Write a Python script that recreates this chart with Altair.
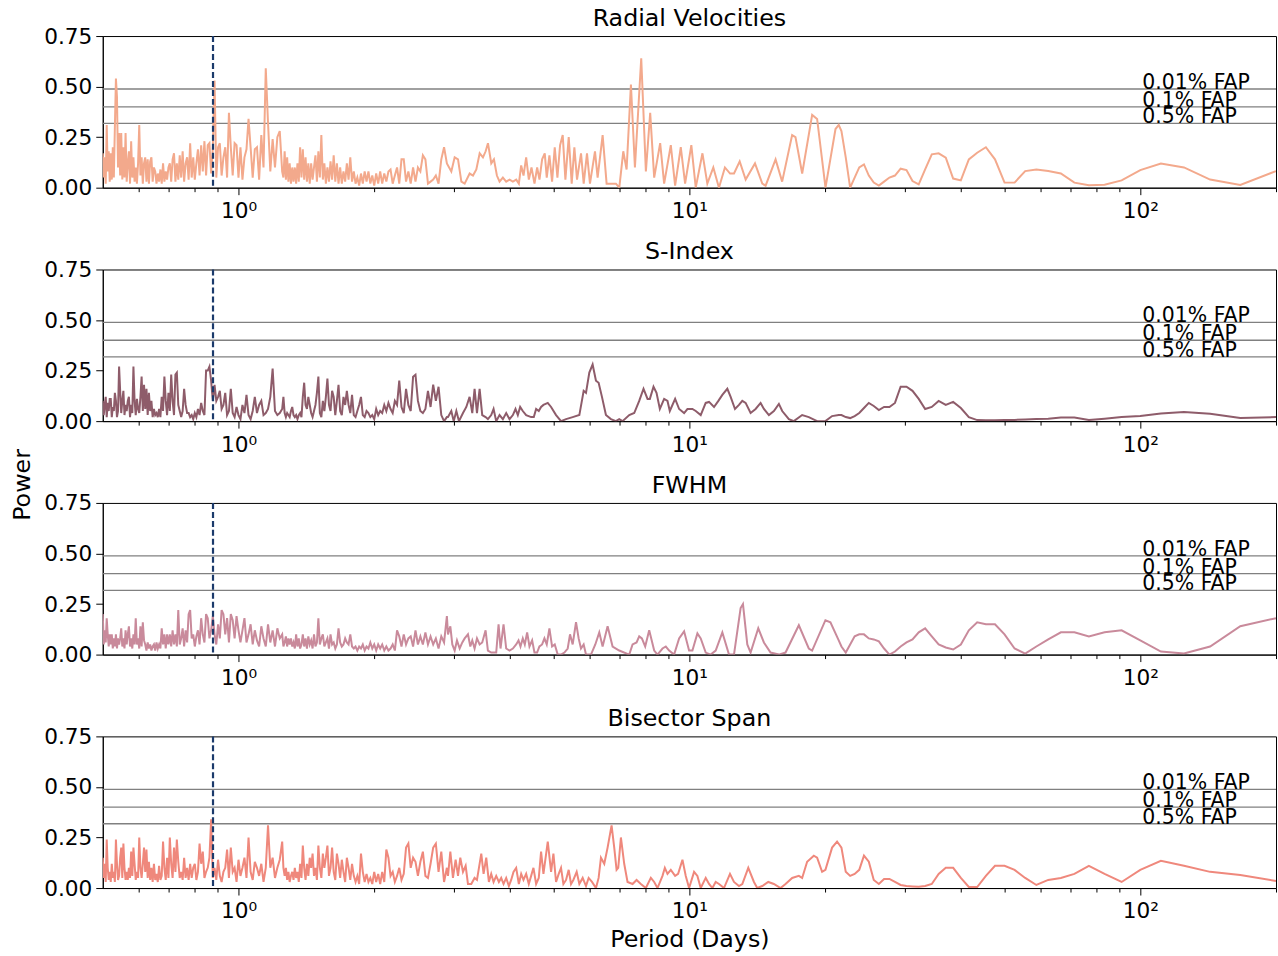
import altair as alt
import pandas as pd

FONT = "DejaVu Sans"

# ---------------- data ----------------
# dense short-period part: frequency samples in 1/day (period = 1/frequency)
freq_dense = [
    2.00, 1.99, 1.98, 1.97, 1.96, 1.95, 1.94, 1.93, 1.92, 1.91,
    1.90, 1.89, 1.88, 1.87, 1.86, 1.85, 1.84, 1.83, 1.82, 1.81,
    1.80, 1.79, 1.78, 1.77, 1.76, 1.75, 1.74, 1.73, 1.72, 1.71,
    1.70, 1.69, 1.68, 1.67, 1.66, 1.65, 1.64, 1.63, 1.62, 1.61,
    1.60, 1.59, 1.58, 1.57, 1.56, 1.55, 1.54, 1.53, 1.52, 1.51,
    1.50, 1.49, 1.48, 1.47, 1.46, 1.45, 1.44, 1.43, 1.42, 1.41,
    1.40, 1.39, 1.38, 1.37, 1.36, 1.35, 1.34, 1.33, 1.32, 1.31,
    1.30, 1.29, 1.28, 1.27, 1.26, 1.25, 1.24, 1.23, 1.22, 1.21,
    1.20, 1.19, 1.18, 1.17, 1.16, 1.15, 1.14, 1.13, 1.12, 1.11,
    1.10, 1.09, 1.08, 1.07, 1.06, 1.05, 1.04, 1.03, 1.02, 1.01,
    1.00, 0.99, 0.98, 0.97, 0.96, 0.95, 0.94, 0.93, 0.92, 0.91,
    0.90, 0.89, 0.88, 0.87, 0.86, 0.85, 0.84, 0.83, 0.82, 0.81,
    0.80,
    0.795, 0.790, 0.785, 0.780, 0.775, 0.770, 0.765, 0.760, 0.755, 0.750,
    0.745, 0.740, 0.735, 0.730, 0.725, 0.720, 0.715, 0.710, 0.705, 0.700,
    0.695, 0.690, 0.685, 0.680, 0.675, 0.670, 0.665, 0.660, 0.655, 0.650,
    0.645, 0.640, 0.635, 0.630, 0.625, 0.620, 0.615, 0.610, 0.605, 0.600,
    0.595, 0.590, 0.585, 0.580, 0.575, 0.570, 0.565, 0.560, 0.555, 0.550,
    0.545, 0.540, 0.535, 0.530, 0.525, 0.520, 0.515, 0.510, 0.505, 0.500,
    0.495, 0.490, 0.485, 0.480, 0.475, 0.470, 0.465, 0.460, 0.455, 0.450,
    0.445, 0.440, 0.435, 0.430, 0.425, 0.420, 0.415, 0.410, 0.405, 0.400,
    0.395, 0.390, 0.385, 0.380, 0.375, 0.370, 0.365, 0.360, 0.355, 0.350,
    0.345,
]

# long-period part: frequency samples in 1/day
freq_long = [
    0.046, 0.045, 0.044, 0.043, 0.042, 0.041, 0.040, 0.039, 0.038, 0.037,
    0.036, 0.035, 0.034, 0.033, 0.032, 0.031, 0.030, 0.029, 0.028, 0.027,
    0.026, 0.025, 0.024, 0.023, 0.022, 0.021, 0.020, 0.019, 0.018, 0.017,
    0.016, 0.015, 0.014, 0.013, 0.012, 0.011, 0.010, 0.009, 0.008, 0.007,
    0.006, 0.005,
]

# ---- Radial Velocities ----
rv_dense = [
    0.17, 0.05, 0.15, 0.02, 0.31, 0.08, 0.18, 0.03, 0.17, 0.04,
    0.20, 0.05, 0.30, 0.54, 0.45, 0.10, 0.27, 0.06, 0.27, 0.04,
    0.20, 0.05, 0.27, 0.03, 0.12, 0.18, 0.02, 0.23, 0.05, 0.15,
    0.03, 0.10, 0.02, 0.12, 0.31, 0.06, 0.15, 0.02, 0.12, 0.15,
    0.03, 0.14, 0.02, 0.13, 0.15, 0.03, 0.10, 0.08, 0.02, 0.07,
    0.03, 0.09, 0.02, 0.12, 0.03, 0.08, 0.04, 0.10, 0.12, 0.03,
    0.14, 0.17, 0.03, 0.12, 0.04, 0.16, 0.05, 0.18, 0.03, 0.12,
    0.15, 0.04, 0.22, 0.05, 0.15, 0.04, 0.12, 0.19, 0.06, 0.21,
    0.08, 0.23, 0.06, 0.21, 0.22, 0.07, 0.20, 0.53, 0.05, 0.20,
    0.22, 0.06, 0.15, 0.20, 0.05, 0.37, 0.20, 0.06, 0.22, 0.21,
    0.05, 0.20, 0.04, 0.15, 0.19, 0.34, 0.20, 0.05, 0.19, 0.20,
    0.04, 0.26, 0.10, 0.59, 0.32, 0.08, 0.24, 0.10, 0.25, 0.28,
    0.08,
    0.05, 0.18, 0.04, 0.15, 0.03, 0.12, 0.02, 0.10, 0.03, 0.10,
    0.02, 0.12, 0.03, 0.20, 0.05, 0.19, 0.04, 0.15, 0.03, 0.12,
    0.02, 0.12, 0.04, 0.10, 0.16, 0.03, 0.18, 0.05, 0.26, 0.04,
    0.12, 0.02, 0.10, 0.03, 0.13, 0.04, 0.16, 0.03, 0.12, 0.02,
    0.10, 0.02, 0.08, 0.03, 0.12, 0.04, 0.15, 0.03, 0.08, 0.02,
    0.05, 0.01, 0.07, 0.02, 0.08, 0.03, 0.08, 0.02, 0.06, 0.01,
    0.07, 0.02, 0.08, 0.02, 0.07, 0.03, 0.08, 0.09, 0.02, 0.06,
    0.10, 0.02, 0.14, 0.14, 0.03, 0.08, 0.02, 0.10, 0.03, 0.10,
    0.08, 0.16, 0.14, 0.02, 0.03, 0.04, 0.06, 0.02, 0.14, 0.20,
    0.12,
]
rv_mid = [  # (period in days, power)
    (2.965, 0.08), (3.016, 0.15), (3.068, 0.14), (3.121, 0.03), (3.174, 0.02),
    (3.256, 0.07), (3.312, 0.06), (3.369, 0.09), (3.427, 0.17), (3.485, 0.15),
    (3.533, 0.18), (3.575, 0.22), (3.636, 0.12), (3.686, 0.14), (3.742, 0.06),
    (3.793, 0.03), (3.858, 0.05), (3.924, 0.03), (3.992, 0.04), (4.060, 0.03),
    (4.130, 0.04), (4.186, 0.02), (4.236, 0.11), (4.287, 0.06), (4.345, 0.15),
    (4.405, 0.04), (4.465, 0.10), (4.534, 0.02), (4.596, 0.10), (4.651, 0.04),
    (4.714, 0.14), (4.778, 0.17), (4.827, 0.05), (4.893, 0.16), (4.960, 0.03),
    (5.028, 0.20), (5.097, 0.05), (5.167, 0.21), (5.237, 0.26), (5.309, 0.04),
    (5.400, 0.25), (5.483, 0.02), (5.558, 0.20), (5.634, 0.04), (5.750, 0.17),
    (5.829, 0.02), (5.928, 0.17), (6.019, 0.02), (6.175, 0.18), (6.259, 0.05),
    (6.421, 0.26), (6.553, 0.02), (6.873, 0.02), (6.991, 0.00), (7.135, 0.18),
    (7.257, 0.09), (7.419, 0.51), (7.572, 0.10), (7.820, 0.64), (8.008, 0.08),
    (8.186, 0.37), (8.355, 0.05), (8.614, 0.22), (8.791, 0.02), (9.095, 0.21),
    (9.298, 0.01), (9.570, 0.20), (9.784, 0.02), (10.10, 0.21), (10.33, 0.00),
    (10.69, 0.17), (10.96, 0.02), (11.30, 0.10), (11.63, 0.00), (11.99, 0.10),
    (12.31, 0.07), (12.56, 0.07), (12.93, 0.13), (13.33, 0.04), (13.98, 0.12),
    (14.51, 0.02), (14.76, 0.01), (15.53, 0.14), (16.06, 0.03), (16.90, 0.26),
    (17.19, 0.25), (17.79, 0.07), (18.72, 0.36), (19.20, 0.34), (20.04, 0.00),
    (21.09, 0.29), (21.44, 0.31),
]
rv_long = [
    0.28, 0.15, 0.00, 0.05, 0.10, 0.115, 0.06, 0.025, 0.01, 0.03,
    0.05, 0.06, 0.094, 0.087, 0.033, 0.016, 0.09, 0.165, 0.17, 0.148,
    0.045, 0.036, 0.14, 0.173, 0.20, 0.14, 0.025, 0.025, 0.082, 0.09,
    0.082, 0.07, 0.025, 0.012, 0.015, 0.036, 0.087, 0.119, 0.10, 0.04,
    0.013, 0.082,
]

# ---- S-Index ----
s_dense = [
    0.10, 0.03, 0.08, 0.12, 0.02, 0.09, 0.05, 0.11, 0.11, 0.02,
    0.07, 0.05, 0.14, 0.10, 0.02, 0.05, 0.27, 0.15, 0.04, 0.10,
    0.15, 0.03, 0.08, 0.05, 0.10, 0.12, 0.02, 0.08, 0.04, 0.27,
    0.10, 0.03, 0.11, 0.06, 0.04, 0.12, 0.22, 0.05, 0.18, 0.06,
    0.16, 0.03, 0.14, 0.05, 0.10, 0.02, 0.06, 0.03, 0.04, 0.02,
    0.06, 0.02, 0.12, 0.05, 0.22, 0.10, 0.03, 0.14, 0.05, 0.23,
    0.10, 0.03, 0.23, 0.24, 0.08, 0.05, 0.02, 0.05, 0.16, 0.08,
    0.04, 0.04, 0.02, 0.03, 0.01, 0.04, 0.02, 0.06, 0.03, 0.09,
    0.05, 0.03, 0.25, 0.25, 0.27, 0.20, 0.10, 0.18, 0.10, 0.12,
    0.15, 0.06, 0.08, 0.14, 0.03, 0.05, 0.16, 0.04, 0.02, 0.07,
    0.03, 0.01, 0.08, 0.04, 0.13, 0.03, 0.01, 0.05, 0.12, 0.04,
    0.08, 0.10, 0.03, 0.04, 0.06, 0.12, 0.26, 0.05, 0.03, 0.04,
    0.06,
    0.12, 0.04, 0.02, 0.04, 0.03, 0.02, 0.05, 0.07, 0.03, 0.02,
    0.03, 0.01, 0.03, 0.04, 0.02, 0.12, 0.19, 0.08, 0.06, 0.12,
    0.08, 0.04, 0.02, 0.05, 0.08, 0.14, 0.22, 0.04, 0.02, 0.10,
    0.05, 0.12, 0.21, 0.08, 0.05, 0.15, 0.12, 0.03, 0.10, 0.18,
    0.05, 0.03, 0.12, 0.08, 0.15, 0.08, 0.04, 0.13, 0.03, 0.02,
    0.05, 0.08, 0.12, 0.03, 0.02, 0.05, 0.04, 0.02, 0.03, 0.01,
    0.06, 0.03, 0.05, 0.04, 0.08, 0.05, 0.09, 0.06, 0.04, 0.10,
    0.08, 0.20, 0.07, 0.04, 0.16, 0.08, 0.05, 0.22, 0.23, 0.10,
    0.05, 0.04, 0.06, 0.15, 0.07, 0.18, 0.10, 0.17, 0.03, 0.00,
    0.02,
]
s_mid = [
    (2.915, 0.02), (2.965, 0.05), (3.001, 0.00), (3.042, 0.05), (3.083, 0.00),
    (3.147, 0.04), (3.201, 0.07), (3.255, 0.12), (3.300, 0.04), (3.339, 0.16),
    (3.380, 0.04), (3.426, 0.16), (3.472, 0.03), (3.532, 0.02), (3.574, 0.01),
    (3.635, 0.03), (3.679, 0.06), (3.729, 0.00), (3.793, 0.03), (3.858, 0.01),
    (3.924, 0.04), (3.991, 0.01), (4.060, 0.03), (4.115, 0.06), (4.164, 0.03),
    (4.214, 0.07), (4.271, 0.05), (4.345, 0.03), (4.457, 0.02), (4.518, 0.02),
    (4.572, 0.06), (4.634, 0.05), (4.689, 0.07), (4.746, 0.08), (4.852, 0.09),
    (4.935, 0.07), (5.062, 0.03), (5.192, 0.00), (5.327, 0.01), (5.510, 0.02),
    (5.701, 0.03), (5.828, 0.15), (5.898, 0.14), (5.999, 0.24), (6.101, 0.28),
    (6.206, 0.20), (6.291, 0.19), (6.399, 0.12), (6.530, 0.03), (6.698, 0.01),
    (6.872, 0.00), (6.989, 0.01), (7.109, 0.00), (7.355, 0.03), (7.545, 0.04),
    (7.740, 0.10), (7.912, 0.16), (8.076, 0.11), (8.172, 0.11), (8.326, 0.17),
    (8.455, 0.14), (8.600, 0.06), (8.791, 0.11), (8.942, 0.10), (9.049, 0.05),
    (9.298, 0.11), (9.490, 0.06), (9.734, 0.04), (9.901, 0.06), (10.156, 0.06),
    (10.331, 0.05), (10.596, 0.03), (10.870, 0.09), (11.056, 0.095), (11.341, 0.07),
    (11.595, 0.10), (11.833, 0.13), (12.138, 0.16), (12.346, 0.12), (12.623, 0.06),
    (12.882, 0.08), (13.102, 0.10), (13.327, 0.09), (13.671, 0.04), (14.024, 0.06),
    (14.386, 0.09), (14.632, 0.06), (15.009, 0.03), (15.396, 0.05), (15.794, 0.085),
    (16.065, 0.05), (16.619, 0.01), (17.048, 0.00), (17.787, 0.03), (18.401, 0.02),
    (19.200, 0.00), (20.032, 0.00), (20.725, 0.025), (21.440, 0.03),
]
s_long = [
    0.03, 0.02, 0.015, 0.025, 0.04, 0.065, 0.09, 0.075, 0.055, 0.07,
    0.07, 0.09, 0.17, 0.17, 0.15, 0.11, 0.06, 0.07, 0.10, 0.08,
    0.095, 0.065, 0.02, 0.005, 0.004, 0.004, 0.005, 0.006, 0.008, 0.010,
    0.012, 0.018, 0.018, 0.006, 0.012, 0.020, 0.025, 0.038, 0.045, 0.036,
    0.015, 0.020,
]

# ---- FWHM ----
fwhm_dense = [
    0.20, 0.05, 0.12, 0.06, 0.18, 0.10, 0.04, 0.10, 0.05, 0.10,
    0.03, 0.08, 0.04, 0.10, 0.03, 0.08, 0.05, 0.08, 0.13, 0.04,
    0.08, 0.03, 0.12, 0.05, 0.10, 0.14, 0.04, 0.08, 0.03, 0.10,
    0.05, 0.18, 0.05, 0.08, 0.03, 0.14, 0.04, 0.16, 0.07, 0.05,
    0.02, 0.06, 0.03, 0.05, 0.02, 0.04, 0.05, 0.02, 0.06, 0.03,
    0.05, 0.03, 0.13, 0.05, 0.10, 0.03, 0.10, 0.05, 0.10, 0.04,
    0.12, 0.05, 0.10, 0.04, 0.22, 0.05, 0.08, 0.13, 0.04, 0.12,
    0.06, 0.20, 0.22, 0.08, 0.10, 0.04, 0.09, 0.12, 0.05, 0.18,
    0.10, 0.06, 0.20, 0.18, 0.08, 0.12, 0.19, 0.10, 0.05, 0.15,
    0.08, 0.22, 0.20, 0.10, 0.18, 0.06, 0.20, 0.17, 0.08, 0.19,
    0.12, 0.06, 0.12, 0.18, 0.06, 0.10, 0.15, 0.05, 0.12, 0.07,
    0.04, 0.14, 0.08, 0.04, 0.15, 0.06, 0.12, 0.04, 0.13, 0.08,
    0.10,
    0.04, 0.06, 0.09, 0.04, 0.08, 0.05, 0.08, 0.04, 0.06, 0.03,
    0.10, 0.04, 0.08, 0.03, 0.05, 0.10, 0.04, 0.08, 0.03, 0.09,
    0.05, 0.07, 0.03, 0.10, 0.04, 0.06, 0.18, 0.05, 0.08, 0.10,
    0.04, 0.06, 0.08, 0.03, 0.10, 0.05, 0.06, 0.03, 0.05, 0.13,
    0.06, 0.04, 0.05, 0.08, 0.06, 0.05, 0.10, 0.04, 0.03, 0.04,
    0.02, 0.04, 0.03, 0.05, 0.02, 0.04, 0.03, 0.06, 0.03, 0.05,
    0.02, 0.05, 0.03, 0.05, 0.02, 0.04, 0.02, 0.03, 0.05, 0.02,
    0.12, 0.09, 0.04, 0.10, 0.05, 0.08, 0.09, 0.04, 0.12, 0.05,
    0.09, 0.05, 0.11, 0.05, 0.09, 0.05, 0.08, 0.03, 0.09, 0.06,
    0.19,
]
fwhm_mid = [
    (2.915, 0.10), (2.950, 0.14), (2.980, 0.05), (3.016, 0.02), (3.052, 0.07),
    (3.094, 0.03), (3.136, 0.06), (3.174, 0.08), (3.228, 0.10), (3.267, 0.04),
    (3.300, 0.07), (3.339, 0.03), (3.380, 0.08), (3.426, 0.05), (3.472, 0.06),
    (3.532, 0.12), (3.574, 0.02), (3.635, 0.01), (3.729, 0.01), (3.774, 0.15),
    (3.812, 0.03), (3.871, 0.15), (3.924, 0.03), (3.991, 0.02), (4.060, 0.03),
    (4.129, 0.05), (4.179, 0.07), (4.221, 0.04), (4.271, 0.08), (4.315, 0.05),
    (4.367, 0.11), (4.419, 0.04), (4.480, 0.07), (4.533, 0.01), (4.595, 0.01),
    (4.650, 0.04), (4.714, 0.05), (4.770, 0.08), (4.827, 0.05), (4.893, 0.13),
    (4.960, 0.04), (5.028, 0.05), (5.105, 0.00), (5.192, 0.00), (5.282, 0.01),
    (5.372, 0.03), (5.436, 0.10), (5.510, 0.05), (5.605, 0.16), (5.681, 0.08),
    (5.749, 0.03), (5.828, 0.05), (5.898, 0.00), (6.050, 0.00), (6.185, 0.05),
    (6.312, 0.11), (6.420, 0.04), (6.586, 0.14), (6.756, 0.04), (6.989, 0.02),
    (7.355, 0.00), (7.482, 0.05), (7.636, 0.06), (7.740, 0.09), (7.846, 0.08),
    (7.980, 0.04), (8.145, 0.12), (8.355, 0.02), (8.497, 0.00), (8.717, 0.03),
    (8.866, 0.04), (9.018, 0.02), (9.250, 0.00), (9.489, 0.08), (9.734, 0.115),
    (9.985, 0.02), (10.156, 0.02), (10.418, 0.105), (10.596, 0.08), (10.870, 0.01),
    (11.150, 0.00), (11.438, 0.02), (11.833, 0.11), (12.242, 0.00), (12.558, 0.00),
    (12.991, 0.23), (13.148, 0.25), (13.441, 0.05), (13.671, 0.01), (14.216, 0.13),
    (14.632, 0.06), (15.138, 0.01), (15.794, 0.00), (16.340, 0.01), (17.488, 0.145),
    (18.401, 0.03), (18.717, 0.02), (20.032, 0.17), (20.550, 0.16), (21.440, 0.07),
]
fwhm_long = [
    0.04, 0.01, 0.05, 0.09, 0.10, 0.10, 0.08, 0.075, 0.065, 0.03,
    0.00, 0.015, 0.04, 0.06, 0.075, 0.11, 0.13, 0.09, 0.05, 0.035,
    0.025, 0.05, 0.12, 0.16, 0.15, 0.15, 0.10, 0.03, 0.005, 0.04,
    0.075, 0.11, 0.11, 0.09, 0.11, 0.12, 0.07, 0.015, 0.005, 0.04,
    0.14, 0.18,
]

# ---- Bisector Span ----
bis_dense = [
    0.15, 0.05, 0.12, 0.03, 0.24, 0.10, 0.04, 0.08, 0.03, 0.12,
    0.05, 0.08, 0.03, 0.24, 0.12, 0.04, 0.06, 0.15, 0.20, 0.05,
    0.22, 0.10, 0.04, 0.08, 0.04, 0.10, 0.05, 0.18, 0.06, 0.20,
    0.12, 0.04, 0.08, 0.05, 0.25, 0.10, 0.05, 0.12, 0.20, 0.08,
    0.19, 0.05, 0.13, 0.04, 0.10, 0.03, 0.12, 0.04, 0.07, 0.03,
    0.11, 0.04, 0.06, 0.23, 0.10, 0.04, 0.15, 0.05, 0.25, 0.12,
    0.05, 0.20, 0.08, 0.24, 0.13, 0.05, 0.08, 0.04, 0.15, 0.05,
    0.10, 0.04, 0.12, 0.05, 0.10, 0.12, 0.04, 0.08, 0.22, 0.12,
    0.18, 0.05, 0.08, 0.10, 0.15, 0.34, 0.05, 0.10, 0.04, 0.14,
    0.06, 0.03, 0.08, 0.10, 0.19, 0.05, 0.20, 0.08, 0.10, 0.03,
    0.14, 0.06, 0.10, 0.15, 0.05, 0.25, 0.08, 0.04, 0.13, 0.10,
    0.06, 0.12, 0.03, 0.10, 0.31, 0.10, 0.15, 0.05, 0.10, 0.14,
    0.23,
    0.10, 0.06, 0.10, 0.04, 0.08, 0.03, 0.06, 0.08, 0.04, 0.10,
    0.05, 0.08, 0.03, 0.12, 0.05, 0.21, 0.10, 0.04, 0.12, 0.06,
    0.15, 0.10, 0.17, 0.06, 0.10, 0.04, 0.21, 0.10, 0.05, 0.17,
    0.10, 0.15, 0.21, 0.06, 0.10, 0.20, 0.08, 0.04, 0.17, 0.12,
    0.05, 0.14, 0.08, 0.03, 0.15, 0.10, 0.04, 0.12, 0.06, 0.03,
    0.06, 0.02, 0.17, 0.08, 0.03, 0.07, 0.03, 0.05, 0.02, 0.08,
    0.03, 0.07, 0.02, 0.08, 0.03, 0.19, 0.15, 0.06, 0.08, 0.03,
    0.06, 0.10, 0.04, 0.07, 0.20, 0.22, 0.10, 0.15, 0.13, 0.06,
    0.13, 0.18, 0.06, 0.05, 0.12, 0.20, 0.22, 0.08, 0.18, 0.03,
    0.10,
]
bis_mid = [
    (2.915, 0.06), (2.950, 0.18), (2.990, 0.05), (3.031, 0.14), (3.068, 0.06),
    (3.104, 0.15), (3.147, 0.08), (3.190, 0.11), (3.228, 0.02), (3.283, 0.02),
    (3.339, 0.05), (3.380, 0.04), (3.455, 0.17), (3.496, 0.07), (3.544, 0.15),
    (3.592, 0.03), (3.635, 0.07), (3.679, 0.03), (3.729, 0.06), (3.780, 0.03),
    (3.825, 0.05), (3.871, 0.02), (3.924, 0.05), (3.978, 0.01), (4.025, 0.04),
    (4.073, 0.08), (4.129, 0.10), (4.186, 0.02), (4.236, 0.07), (4.286, 0.04),
    (4.345, 0.07), (4.404, 0.02), (4.457, 0.06), (4.510, 0.10), (4.572, 0.02),
    (4.634, 0.05), (4.689, 0.18), (4.746, 0.07), (4.852, 0.23), (4.935, 0.08),
    (4.994, 0.17), (5.062, 0.03), (5.131, 0.07), (5.192, 0.10), (5.255, 0.02),
    (5.327, 0.04), (5.399, 0.09), (5.464, 0.02), (5.529, 0.04), (5.624, 0.08),
    (5.701, 0.02), (5.799, 0.05), (5.898, 0.01), (5.978, 0.05), (6.081, 0.03),
    (6.206, 0.00), (6.291, 0.05), (6.366, 0.15), (6.475, 0.12), (6.586, 0.20),
    (6.721, 0.31), (6.813, 0.20), (6.895, 0.09), (6.954, 0.10), (7.049, 0.25),
    (7.169, 0.12), (7.292, 0.03), (7.482, 0.02), (7.636, 0.04), (7.805, 0.02),
    (8.007, 0.00), (8.214, 0.05), (8.355, 0.03), (8.497, 0.00), (8.717, 0.06),
    (8.822, 0.10), (8.942, 0.07), (9.095, 0.09), (9.298, 0.06), (9.441, 0.07),
    (9.652, 0.14), (9.817, 0.06), (9.985, 0.00), (10.243, 0.08), (10.418, 0.06),
    (10.596, 0.00), (10.870, 0.05), (11.056, 0.02), (11.246, 0.00), (11.438, 0.03),
    (11.634, 0.02), (11.933, 0.00), (12.304, 0.07), (12.558, 0.03), (12.882, 0.01),
    (13.102, 0.02), (13.509, 0.10), (13.906, 0.03), (14.143, 0.00), (14.509, 0.01),
    (14.959, 0.03), (15.396, 0.02), (15.929, 0.00), (16.340, 0.02), (16.904, 0.05),
    (17.488, 0.06), (17.787, 0.05), (18.245, 0.13), (18.877, 0.16), (19.200, 0.15),
    (19.695, 0.08), (20.032, 0.09), (20.725, 0.20), (21.260, 0.23),
]
bis_long = [
    0.20, 0.08, 0.06, 0.07, 0.09, 0.16, 0.13, 0.04, 0.02, 0.045,
    0.045, 0.03, 0.015, 0.01, 0.008, 0.006, 0.01, 0.02, 0.07, 0.10,
    0.10, 0.05, 0.005, 0.005, 0.06, 0.11, 0.11, 0.09, 0.05, 0.015,
    0.04, 0.05, 0.07, 0.11, 0.07, 0.03, 0.09, 0.135, 0.11, 0.08,
    0.065, 0.035,
]

titles = ["Radial Velocities", "S-Index", "FWHM", "Bisector Span"]
colors = ["#F3A98C", "#8E5C6A", "#C98A9B", "#EF887C"]
fap_levels = [0.488, 0.400, 0.318]
fap_labels = ["0.01% FAP", "0.1% FAP", "0.5% FAP"]
marker_period = [0.878]
x_tick_values = [0.6, 0.7, 0.8, 0.9, 1, 2, 3, 4, 5, 6, 7, 8, 9,
                 10, 20, 30, 40, 50, 60, 70, 80, 90, 100, 200]
y_tick_values = [0.0, 0.25, 0.5, 0.75]


def series(dense, mid, long_):
    rows = [(1.0 / f, p) for f, p in zip(freq_dense, dense)]
    rows += [(a, b) for a, b in mid]
    rows += [(1.0 / f, p) for f, p in zip(freq_long, long_)]
    return pd.DataFrame(rows, columns=["period", "power"]).sort_values("period")


frames = [
    series(rv_dense, rv_mid, rv_long),
    series(s_dense, s_mid, s_long),
    series(fwhm_dense, fwhm_mid, fwhm_long),
    series(bis_dense, bis_mid, bis_long),
]

fap_df = pd.DataFrame({"level": fap_levels, "label": fap_labels})
marker_df = pd.DataFrame({"period": marker_period})
power_df = pd.DataFrame({"t": ["Power"]})

xscale = alt.Scale(type="log", domain=[0.5, 200], nice=False)
yscale = alt.Scale(domain=[0, 0.75], nice=False, zero=False)

LABEL_EXPR = ("datum.value == 1 ? '10\u2070' : datum.value == 10 ? '10\u00b9' : "
              "datum.value == 100 ? '10\u00b2' : ''")
MAJOR_TEST = "datum.value == 1 || datum.value == 10 || datum.value == 100"


def x_axis(with_title):
    kw = dict(
        values=x_tick_values,
        labelExpr=LABEL_EXPR,
        tickSize={"condition": {"test": MAJOR_TEST, "value": 7}, "value": 4},
        tickColor="black", tickWidth=1,
        domainColor="black", domainWidth=1,
        labelFont=FONT, labelFontSize=21.7, labelColor="black",
        labelPadding=6, labelOverlap=False, labelFlush=False,
        grid=False,
    )
    if with_title:
        kw.update(title="Period (Days)", titleFont=FONT, titleFontSize=23.8,
                  titleFontWeight="normal", titleColor="black", titlePadding=5)
    else:
        kw.update(title=None)
    return alt.Axis(**kw)


y_axis = alt.Axis(
    values=y_tick_values, format=".2f",
    tickSize=7, tickColor="black", tickWidth=1,
    domainColor="black", domainWidth=1,
    labelFont=FONT, labelFontSize=21.7, labelColor="black",
    labelPadding=4, grid=False, title=None,
)


def make_panel(i):
    last = i == 3
    x_enc = alt.X("period:Q", scale=xscale, axis=x_axis(last))
    fap_rules = alt.Chart(fap_df).mark_rule(color="#808080", strokeWidth=1.3).encode(
        y=alt.Y("level:Q", scale=yscale, axis=y_axis)
    )
    line = alt.Chart(frames[i]).mark_line(color=colors[i], strokeWidth=2.0, clip=True).encode(
        x=x_enc,
        y=alt.Y("power:Q", scale=yscale, axis=y_axis),
    )
    vline = alt.Chart(marker_df).mark_rule(
        color="#1B3A6B", strokeWidth=2.2, strokeDash=[6, 3]
    ).encode(x=x_enc)
    fap_text = alt.Chart(fap_df).mark_text(
        align="left", baseline="alphabetic", font=FONT, fontSize=20.5, color="black", dx=2
    ).encode(
        x=alt.datum(100),
        y=alt.Y("level:Q", scale=yscale, axis=y_axis),
        text="label:N",
    )
    layers = [fap_rules, line, vline, fap_text]
    if i == 1:
        # shared y-axis label, placed in the gap between the 2nd and 3rd panels
        layers.append(
            alt.Chart(power_df).mark_text(
                angle=270, align="center", baseline="middle",
                font=FONT, fontSize=23.8, color="black"
            ).encode(x=alt.value(-80), y=alt.value(216), text="t:N")
        )
    return alt.layer(*layers).properties(
        width=1176,
        height=152,
        title=alt.TitleParams(
            text=titles[i], font=FONT, fontSize=23.8, fontWeight="normal",
            color="black", anchor="middle", offset=-4.5,
        ),
    )


chart = alt.vconcat(
    *[make_panel(i) for i in range(4)], spacing=82, bounds="flush"
).properties(
    padding={"left": 10, "top": 5, "right": 0, "bottom": 0}
).configure(font=FONT).configure_view(stroke="black", strokeWidth=1)

chart.save("out.html", embed_options={"renderer": "svg", "actions": False})
